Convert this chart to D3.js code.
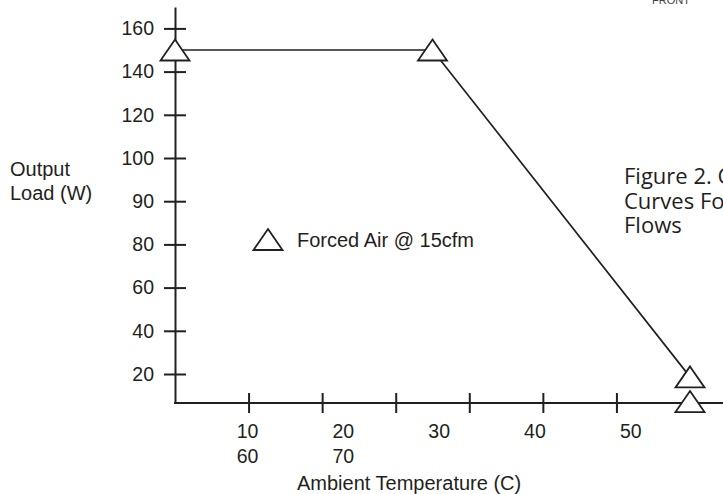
<!DOCTYPE html>
<html><head><meta charset="utf-8">
<script src="https://cdn.jsdelivr.net/npm/d3@7"></script>
<style>html,body{margin:0;padding:0;background:#fff;overflow:hidden}</style>
</head><body><svg id="c" width="723" height="494"></svg>
<script>
// ---- data ----
const curveX = [0, 35, 70];
const curveY = [150, 150, 18];
const extraX = [70];
const extraY = [1];
const xTicks = [10, 20, 30, 40, 50, 60, 70];
const xLabelsRow1 = [10, 20, 30, 40, 50];
const xLabelsRow2 = [60, 70];
const yTicks = [20, 40, 60, 80, 90, 100, 120, 140, 160];
const legendLabel = "Forced Air @ 15cfm";
const xTitle = "Ambient Temperature (C)";
const yTitle = ["Output", "Load (W)"];
const figLines = ["Figure 2. C", "Curves For", "Flows"];

// ---- layout ----
const W = 723, H = 494;
const ink = "#231f20";
const font = "'Liberation Sans', Arial, sans-serif";
const svg = d3.select("#c");

const x = d3.scaleLinear().domain([0, 70]).range([175, 690]);
const yStep = 43.2, y20 = 374, yBase = 403;
const yDom = [0].concat(yTicks).concat([170]);
const yRan = [yBase].concat(yTicks.map((d, i) => y20 - i * yStep)).concat([y20 - 8 * yStep - 21.5]);
const y = d3.scaleLinear().domain(yDom).range(yRan);
// label positions along the bottom (spaced wider than ticks in the source)
const xLab = d3.scaleLinear().domain([10, 50]).range([x(10) - 1, x(10) - 1 + 4 * 95.8]);

// FRONT (clipped at the top)
svg.append("text").attr("x", 671).attr("y", 4).attr("text-anchor", "middle")
  .attr("font-family", font).attr("font-size", 11).attr("fill", "#444").text("FRONT");

// y axis
const gy = svg.append("g").attr("transform", `translate(${x(0)},0)`)
  .call(d3.axisLeft(y).tickValues(yTicks).tickSize(11).tickPadding(10).tickSizeOuter(0));
gy.select(".domain").attr("stroke", ink).attr("stroke-width", 2);
gy.selectAll(".tick line").attr("x1", -11).attr("x2", 11).attr("stroke", ink).attr("stroke-width", 2);
gy.selectAll(".tick text").attr("font-family", font).attr("font-size", 19.5).attr("fill", ink);

// x axis
const gx = svg.append("g").attr("transform", `translate(0,${y(0)})`)
  .call(d3.axisBottom(x).tickValues(xTicks).tickSize(10).tickFormat(""));
gx.select(".domain").remove();
gx.append("line").attr("x1", x(0) - 1).attr("x2", W).attr("stroke", ink).attr("stroke-width", 2);
gx.selectAll(".tick line").attr("y1", -10).attr("y2", 10).attr("stroke", ink).attr("stroke-width", 2);

// x labels
svg.append("g").selectAll("text").data(xLabelsRow1).join("text")
  .attr("x", d => xLab(d)).attr("y", 438).attr("text-anchor", "middle")
  .attr("font-family", font).attr("font-size", 19.5).attr("fill", ink).text(d => d);
svg.append("g").selectAll("text").data(xLabelsRow2).join("text")
  .attr("x", d => xLab(d - 50)).attr("y", 463).attr("text-anchor", "middle")
  .attr("font-family", font).attr("font-size", 19.5).attr("fill", ink).text(d => d);

// titles
svg.append("text").attr("x", 297).attr("y", 490)
  .attr("font-family", font).attr("font-size", 20).attr("fill", ink).text(xTitle);
svg.append("g").selectAll("text").data(yTitle).join("text")
  .attr("x", 10).attr("y", (d, i) => 176 + i * 24)
  .attr("font-family", font).attr("font-size", 20).attr("fill", ink).text(d => d);

// curve
const pts = curveX.map((d, i) => [d, curveY[i]]);
svg.append("path").datum(pts)
  .attr("d", d3.line().x(d => x(d[0])).y(d => y(d[1])))
  .attr("fill", "none").attr("stroke", ink).attr("stroke-width", 1.7);

const tri = "M0,-10.5L14.5,10.5L-14.5,10.5Z";
const allPts = pts.concat(extraX.map((d, i) => [d, extraY[i]]));
svg.append("g").selectAll("path").data(allPts).join("path")
  .attr("d", tri).attr("transform", d => `translate(${x(d[0])},${y(d[1])})`)
  .attr("fill", "#fff").attr("stroke", ink).attr("stroke-width", 1.8);

// legend
svg.append("path").attr("d", tri).attr("transform", "translate(268,239.5)")
  .attr("fill", "#fff").attr("stroke", ink).attr("stroke-width", 1.8);
svg.append("text").attr("x", 297).attr("y", 247)
  .attr("font-family", font).attr("font-size", 20).attr("fill", ink).text(legendLabel);

// figure caption (clipped at right edge)
svg.append("g").selectAll("text").data(figLines).join("text")
  .attr("x", 624).attr("y", (d, i) => 184 + i * 24.5)
  .attr("font-family", "'Open Sans', 'Noto Sans', sans-serif").attr("font-size", 22)
  .attr("fill", ink).text(d => d);
</script>
</body></html>
